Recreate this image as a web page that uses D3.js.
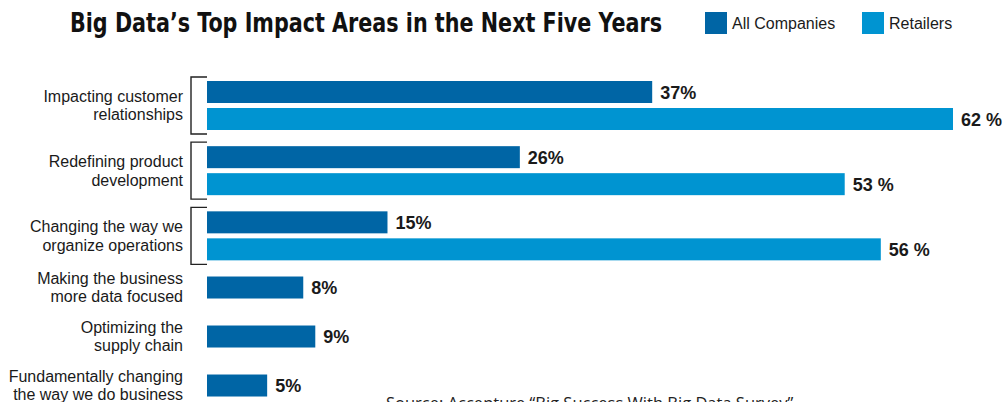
<!DOCTYPE html>
<html>
<head>
    <meta charset="utf-8">
    <title>Big Data's Top Impact Areas</title>
    <script type="text/javascript" src="https://cdn.jsdelivr.net/npm/d3@7"></script>
    <style type="text/css">
        html, body {
            margin: 0;
            background: #fff;
        }
        svg {
            display: block;
        }
        .cat {
            font-family: "Liberation Sans", Arial, sans-serif;
            font-size: 16px;
            fill: #1a1a1a;
        }
        .val {
            font-family: "Liberation Sans", Arial, sans-serif;
            font-size: 18px;
            font-weight: bold;
            fill: #1a1a1a;
        }
    </style>
</head>
<body>
<script type="text/javascript">
    var width = 1004, height = 402;

    var categories = [
        "Impacting customer\nrelationships",
        "Redefining product\ndevelopment",
        "Changing the way we\norganize operations",
        "Making the business\nmore data focused",
        "Optimizing the\nsupply chain",
        "Fundamentally changing\nthe way we do business"
    ];
    var allCompanies = [37, 26, 15, 8, 9, 5];
    var retailers = [62, 53, 56, null, null, null];
    var seriesNames = ["All Companies", "Retailers"];
    var colors = ["#0065a5", "#0094d1"];

    var barH = 22, barStep = 27;

    // rows with two bars are a bit taller than single ones
    var weights = categories.map(function (c, i) { return retailers[i] == null ? 1 : 1.33; });
    var offsets = [0].concat(Array.from(d3.cumsum(weights)));

    var x = d3.scaleLinear().domain([0, 62]).range([207, 953]);
    var y = d3.scaleLinear().domain([0, 1]).range([81, 130]);

    var svg = d3.select("body").append("svg")
        .attr("width", width)
        .attr("height", height);

    // title (condensed face, squeezed to the original width)
    svg.append("text")
        .attr("x", 70)
        .attr("y", 32)
        .attr("textLength", 592)
        .attr("lengthAdjust", "spacingAndGlyphs")
        .style("font-family", "'Liberation Sans Narrow', 'DejaVu Sans Condensed', sans-serif")
        .style("font-weight", "bold")
        .style("font-size", "26px")
        .style("fill", "#111")
        .text("Big Data\u2019s Top Impact Areas in the Next Five Years");

    // legend
    var legX = [705, 862];
    var leg = svg.selectAll("g.leg").data(seriesNames).enter().append("g")
        .attr("class", "leg")
        .attr("transform", function (d, i) { return "translate(" + legX[i] + ",12)"; });
    leg.append("rect")
        .attr("width", 22).attr("height", 22)
        .attr("fill", function (d, i) { return colors[i]; });
    leg.append("text")
        .attr("class", "cat")
        .attr("x", 27).attr("y", 17)
        .text(function (d) { return d; });

    var rows = categories.map(function (c, i) {
        return {
            label: c,
            top: y(offsets[i]),
            vals: retailers[i] == null ? [allCompanies[i]] : [allCompanies[i], retailers[i]]
        };
    });

    var row = svg.selectAll("g.row").data(rows).enter().append("g")
        .attr("class", "row");

    // brackets for grouped rows
    row.filter(function (d) { return d.vals.length > 1; })
        .append("path")
        .attr("d", function (d) {
            var t = d.top - 4, b = d.top + barStep + barH + 4;
            return "M207," + t + "H191V" + b + "H207";
        })
        .attr("fill", "none")
        .attr("stroke", "#222")
        .attr("stroke-width", 1.4);

    // category labels
    row.append("text")
        .attr("class", "cat")
        .attr("text-anchor", "end")
        .each(function (d) {
            var mid = d.top + (d.vals.length * barStep - 5) / 2;
            var lines = d.label.split("\n");
            d3.select(this).selectAll("tspan").data(lines).enter().append("tspan")
                .attr("x", 183)
                .attr("y", function (l, j) { return mid - 9.25 + 5.6 + j * 18.5; })
                .text(function (l) { return l; });
        });

    var bars = row.selectAll("g.bar")
        .data(function (d) { return d.vals.map(function (v, j) { return {v: v, j: j, top: d.top + j * barStep}; }); })
        .enter().append("g")
        .attr("class", "bar");

    bars.append("rect")
        .attr("x", x(0))
        .attr("y", function (d) { return d.top; })
        .attr("width", function (d) { return x(d.v) - x(0); })
        .attr("height", barH)
        .attr("fill", function (d) { return colors[d.j]; });

    bars.append("text")
        .attr("class", "val")
        .attr("x", function (d) { return x(d.v) + 8; })
        .attr("y", function (d) { return d.top + barH / 2 + 6.5; })
        .text(function (d) { return d.j === 0 ? d.v + "%" : d.v + " %"; });

    // source line, cut off at the bottom like the original
    svg.append("text")
        .attr("x", 386)
        .attr("y", 409)
        .style("font-family", "'Open Sans', sans-serif")
        .style("font-size", "16.5px")
        .style("fill", "#222")
        .text("Source: Accenture \u201cBig Success With Big Data Survey\u201d");
</script>
</body>
</html>
